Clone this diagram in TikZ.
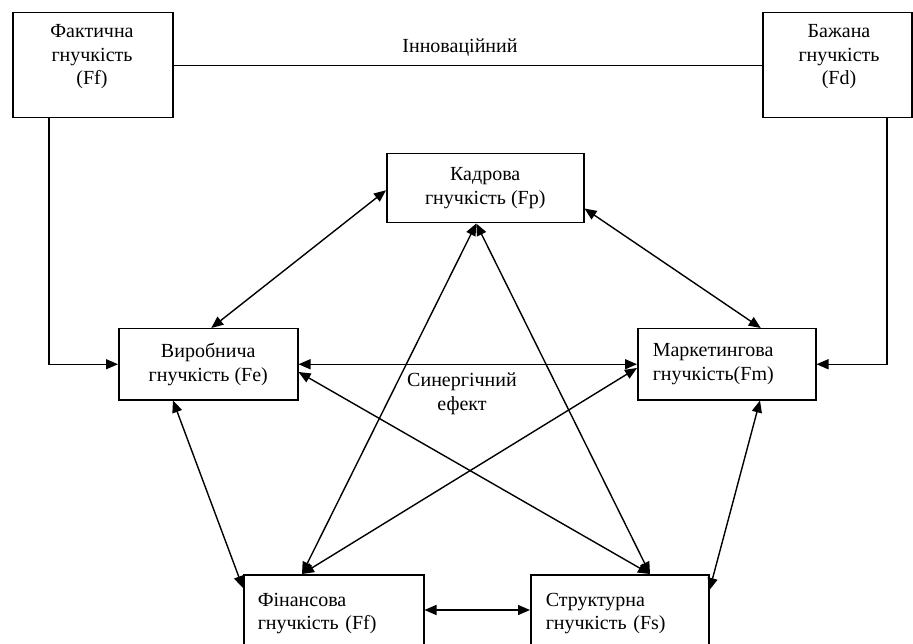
\documentclass[tikz,border=0pt]{standalone}
\usepackage{fontspec}
\setmainfont{Liberation Serif}
\usetikzlibrary{arrows.meta,calc}
\begin{document}
\begin{tikzpicture}[x=1pt,y=-1pt,
  every node/.style={font=\fontsize{20}{23.5}\selectfont},
  box/.style={draw, line width=1.5pt, inner sep=0pt, anchor=north west},
  tip/.tip={Triangle[length=12pt,width=10pt]},
  link/.style={line width=1.4pt, tip-tip},
  feed/.style={line width=1.4pt, -tip},
  plain/.style={line width=1.4pt}
]
\clip (0,0) rectangle (913,644);
\fill[white] (0,0) rectangle (913,644);

% outer boxes: actual and desired flexibility
\node[box, minimum width=160pt, minimum height=105pt] (fact) at (12,12) {};
\node[align=center] (factT) at (92,57) {Фактична\\гнучкість\\(Ff)};
\node[box, minimum width=149pt, minimum height=105pt] (bazh) at (762,12) {};
\node[align=center] (bazhT) at (839,57) {Бажана\\гнучкість\\(Fd)};

% the five kinds of flexibility
\node[box, minimum width=197pt, minimum height=69pt, align=center] (fp) at (386,153) {Кадрова\\гнучкість (Fp)};
\node[box, minimum width=179pt, minimum height=71pt, align=center] (fe) at (118,328) {Виробнича\\гнучкість (Fe)};
\node[box, minimum width=178pt, minimum height=71pt, text width=148pt, align=left] (fm) at (637,328) {Маркетингова\\гнучкість(Fm)};
\node[box, minimum width=180pt, minimum height=78pt, text width=152pt, align=left] (ff) at (243,574) {Фінансова\\гнучкість (Ff)};
\node[box, minimum width=178pt, minimum height=78pt, text width=148pt, align=left] (fs) at (530,574) {Структурна\\гнучкість (Fs)};

\node[align=center] (syn) at (462,394) {Синергічний\\ефект};
\node (innov) at (460,48) {Інноваційний};

% innovation link and feeds into production / marketing
\draw[plain] (fact.east) -- (bazh.west);
\draw[feed] ($(fact.south west)+(37,0)$) |- (fe.west);
\draw[feed] ($(bazh.south west)+(125,0)$) |- (fm.east);

% anchor points on the pentagon
\coordinate (pB) at ($(fp.south)+(-9,0)$);
\coordinate (fT) at ($(ff.north west)+(59,0)$);
\coordinate (sT) at ($(fs.north west)+(120,0)$);

% mutual links
\draw[link] ($(fp.west)+(0,2)$) -- ($(fe.north)+(3,0)$);
\draw[link] ($(fp.south east)+(0,-15)$) -- ($(fm.north)+(34,0)$);
\draw[link] (pB) -- (fT);
\draw[link] (pB) -- (sT);
\draw[link] ($(fe.south west)+(55,0)$) -- ($(ff.north west)+(0,14)$);
\draw[link] ($(fm.south west)+(123,0)$) -- ($(fs.north east)+(0,16)$);
\draw[link] (fe.east) -- (fm.west);
\draw[link] ($(fe.north east)+(0,44)$) -- (sT);
\draw[link] ($(fm.north west)+(0,40)$) -- (fT);
\draw[link] ($(ff.north east)+(0,36)$) -- ($(fs.north west)+(0,36)$);
\end{tikzpicture}
\end{document}
